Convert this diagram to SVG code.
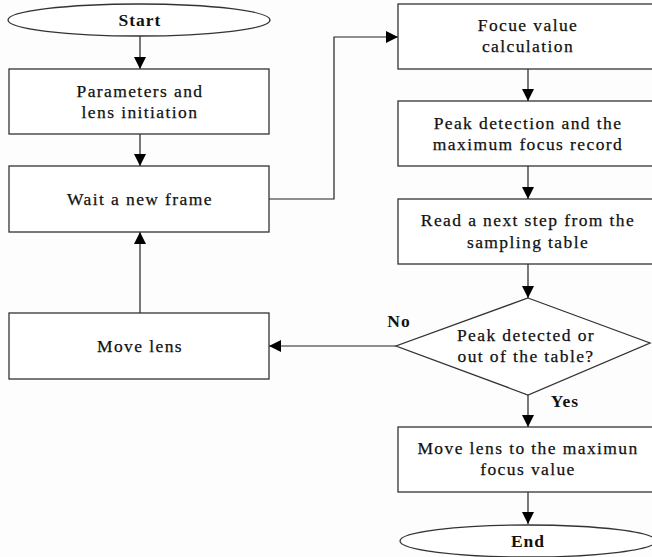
<svg xmlns="http://www.w3.org/2000/svg" width="652" height="557" viewBox="0 0 652 557">
  <defs>
    <marker id="arrow" viewBox="0 0 12 12" refX="12" refY="6" markerWidth="12" markerHeight="12" markerUnits="userSpaceOnUse" orient="auto">
      <path d="M0,0 L12,6 L0,12 Z" fill="#000"/>
    </marker>
  </defs>
  <style>
    .box { fill: #fff; stroke: #333; stroke-width: 1.3; }
    .edge { fill: none; stroke: #222; stroke-width: 1.2; marker-end: url(#arrow); }
    text { font-family: "Liberation Serif", "Times New Roman", serif; font-size: 17.5px; letter-spacing: 1.4px; fill: #111; text-anchor: middle; stroke: #111; stroke-width: 0.25px; }
    .b { font-weight: bold; letter-spacing: 1px; stroke-width: 0; }
  </style>
  <rect width="652" height="557" fill="#fdfdfd"/>

  <!-- connectors -->
  <g id="connectors">
    <line class="edge" x1="140" y1="36" x2="140" y2="69"/>
    <line class="edge" x1="140" y1="134" x2="140" y2="166"/>
    <polyline class="edge" points="269,199 334,199 334,37 398,37"/>
    <line class="edge" x1="528" y1="69" x2="528" y2="101"/>
    <line class="edge" x1="528" y1="166" x2="528" y2="199"/>
    <line class="edge" x1="528" y1="264" x2="528" y2="298"/>
    <line class="edge" x1="396" y1="346" x2="269" y2="346"/>
    <line class="edge" x1="140" y1="313" x2="140" y2="232"/>
    <line class="edge" x1="528" y1="395" x2="528" y2="427"/>
    <line class="edge" x1="528" y1="492" x2="528" y2="524"/>
    <text class="b" x="399" y="327">No</text>
    <text class="b" x="565" y="407">Yes</text>
  </g>

  <g id="start">
    <ellipse class="box" cx="139" cy="20" rx="131" ry="16"/>
    <text class="b" x="140" y="26">Start</text>
  </g>

  <g id="init">
    <rect class="box" x="9" y="69" width="260" height="65"/>
    <text x="140" y="97">Parameters and</text>
    <text x="140" y="118">lens initiation</text>
  </g>

  <g id="wait">
    <rect class="box" x="9" y="166" width="260" height="66"/>
    <text x="140" y="205">Wait a new frame</text>
  </g>

  <g id="move">
    <rect class="box" x="9" y="313" width="260" height="66"/>
    <text x="140" y="352">Move lens</text>
  </g>

  <g id="focus">
    <rect class="box" x="398" y="4" width="262" height="65"/>
    <text x="528" y="31">Focue value</text>
    <text x="528" y="52">calculation</text>
  </g>

  <g id="peak">
    <rect class="box" x="398" y="101" width="262" height="65"/>
    <text x="528" y="129">Peak detection and the</text>
    <text x="528" y="150">maximum focus record</text>
  </g>

  <g id="read">
    <rect class="box" x="398" y="199" width="262" height="65"/>
    <text x="528" y="226">Read a next step from the</text>
    <text x="528" y="248">sampling table</text>
  </g>

  <g id="decision">
    <polygon class="box" points="528,298 650,343 528,395 396,346"/>
    <text x="526" y="341">Peak detected or</text>
    <text x="526" y="362">out of the table?</text>
  </g>

  <g id="final">
    <rect class="box" x="398" y="427" width="262" height="65"/>
    <text x="528" y="454">Move lens to the maximun</text>
    <text x="528" y="475">focus value</text>
  </g>

  <g id="end">
    <ellipse class="box" cx="528" cy="541" rx="128" ry="16"/>
    <text class="b" x="528" y="547">End</text>
  </g>
</svg>
